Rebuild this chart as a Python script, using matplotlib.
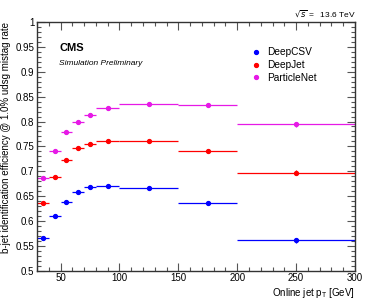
import matplotlib
matplotlib.use("Agg")
import matplotlib.pyplot as plt
from matplotlib.ticker import MultipleLocator
from matplotlib.lines import Line2D
import numpy as np

plt.rcParams['font.family'] = ['Liberation Sans', 'DejaVu Sans']

bin_lo = [30, 40, 50, 60, 70, 80, 100, 150, 200]
bin_hi = [40, 50, 60, 70, 80, 100, 150, 200, 300]
deepcsv = [0.565, 0.610, 0.639, 0.658, 0.669, 0.671, 0.666, 0.636, 0.561]
deepcsv_err = [0.002, 0.002, 0.002, 0.002, 0.002, 0.002, 0.002, 0.003, 0.005]
deepjet = [0.637, 0.689, 0.722, 0.746, 0.754, 0.761, 0.761, 0.741, 0.697]
deepjet_err = [0.002, 0.002, 0.002, 0.002, 0.002, 0.002, 0.002, 0.003, 0.005]
particlenet = [0.687, 0.741, 0.778, 0.799, 0.813, 0.827, 0.835, 0.833, 0.794]
particlenet_err = [0.002, 0.002, 0.002, 0.002, 0.002, 0.002, 0.002, 0.004, 0.005]
labels = ['DeepCSV', 'DeepJet', 'ParticleNet']
colors = ['#0000ff', '#ff0000', '#e619e6']

fig = plt.figure(figsize=(3.74, 3.01), dpi=100)
ax = fig.add_axes([0.099, 0.1007, 0.85, 0.826])

lo = np.array(bin_lo, float)
hi = np.array(bin_hi, float)
centers = (lo + hi) / 2
xerr = (hi - lo) / 2

handles = []
for vals, errs, lab, c in zip([deepcsv, deepjet, particlenet],
                              [deepcsv_err, deepjet_err, particlenet_err],
                              labels, colors):
    ax.errorbar(centers, vals, xerr=xerr, yerr=errs, fmt='o', ms=2.8,
                color=c, ecolor=c, elinewidth=0.9, capsize=0)
    handles.append(Line2D([], [], ls='none', marker='o', ms=2.8, color=c, label=lab))

ax.set_xlim(30, 300)
ax.set_ylim(0.5, 1.0)
ax.xaxis.set_major_locator(MultipleLocator(50))
ax.xaxis.set_minor_locator(MultipleLocator(10))
ax.yaxis.set_minor_locator(MultipleLocator(0.01))
ax.set_yticks(np.arange(0.5, 1.001, 0.05))
ax.set_yticklabels(['0.5', '0.55', '0.6', '0.65', '0.7', '0.75', '0.8', '0.85', '0.9', '0.95', '1'])
ax.tick_params(which='both', direction='in', top=True, right=True, labelsize=7, color='#555555', pad=2)
ax.tick_params(which='major', length=6, width=0.8)
ax.tick_params(which='minor', length=3, width=0.8)
for s in ax.spines.values():
    s.set_linewidth(1.0)
    s.set_color('#333333')

ax.set_xlabel('Online jet p$_{\\mathregular{T}}$ [GeV]', fontsize=7, loc='right', labelpad=2)
ax.set_ylabel('b-jet identification efficiency @ 1.0% udsg mistag rate', fontsize=7, loc='top', labelpad=3)

ax.legend(handles=handles, loc='upper left', bbox_to_anchor=(0.643, 0.935), frameon=False, fontsize=7.3,
          handletextpad=0.6, handlelength=1.0, labelspacing=0.28)

ax.text(0.07, 0.895, 'CMS', transform=ax.transAxes, fontsize=8, fontweight='bold', va='center')
ax.text(0.07, 0.835, 'Simulation Preliminary', transform=ax.transAxes, fontsize=6, style='italic', va='center')
fig.text(0.951, 0.953, '$\\sqrt{s}$ =   13.6 TeV', fontsize=6, ha='right', va='center')

fig.savefig('out.png', dpi=100)
